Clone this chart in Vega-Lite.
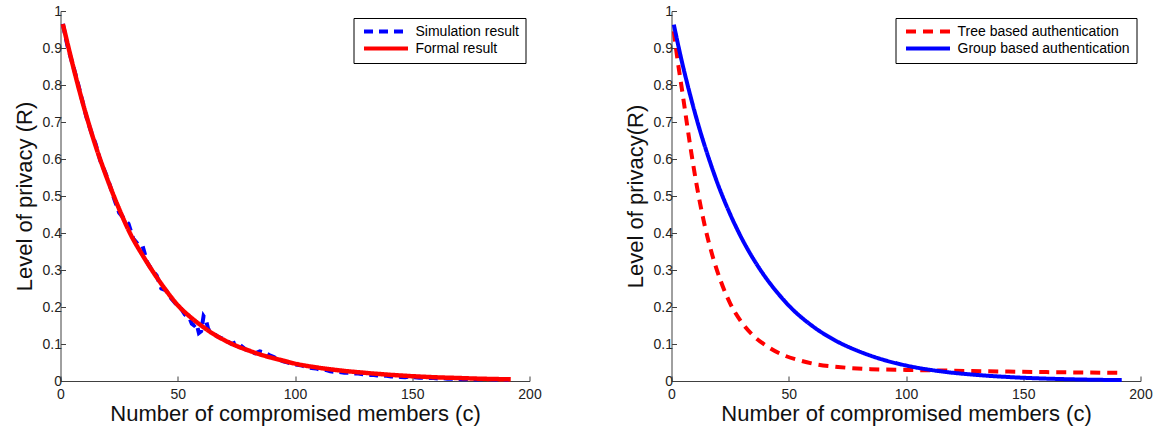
{
  "$schema": "https://vega.github.io/schema/vega-lite/v6.json",
  "background": "white",
  "padding": {"left": 12.5, "top": 4, "right": 2, "bottom": 2},
  "bounds": "flush",
  "spacing": 142,
  "config": {
    "view": {"stroke": null},
    "font": "Liberation Sans",
    "axis": {
      "grid": false,
      "domainColor": "#404040",
      "domainWidth": 1,
      "tickColor": "#404040",
      "tickSize": -5,
      "labelFlush": false,
      "labelFont": "Liberation Sans",
      "labelFontSize": 14,
      "labelColor": "#222222",
      "titleFont": "Liberation Sans",
      "titleFontSize": 22,
      "titleFontWeight": "normal",
      "titleColor": "#111111"
    },
    "axisX": {"labelPadding": 11, "titlePadding": 2},
    "axisY": {"labelPadding": 4, "titlePadding": 6},
    "legend": {
      "title": null, "strokeColor": "black", "fillColor": "white", "padding": 6,
      "symbolType": "M-4,0H4", "symbolSize": 121, "symbolStrokeWidth": 4, "symbolOffset": 19,
      "labelFontSize": 14, "labelColor": "black", "labelFont": "Liberation Sans", "rowPadding": 0, "labelOffset": 22, "labelLimit": 400
    }
  },
  "resolve": {
    "scale": {"color": "independent", "strokeDash": "independent"},
    "legend": {"color": "independent", "strokeDash": "independent"}
  },
  "datasets": {
    "left": [
      {"c": 1, "r": 0.965, "s": "Simulation result"}, {"c": 3, "r": 0.905, "s": "Simulation result"}, {"c": 5, "r": 0.86, "s": "Simulation result"}, {"c": 7, "r": 0.815, "s": "Simulation result"}, {"c": 9, "r": 0.765, "s": "Simulation result"}, {"c": 11, "r": 0.715, "s": "Simulation result"}, {"c": 13, "r": 0.675, "s": "Simulation result"}, {"c": 15, "r": 0.64, "s": "Simulation result"}, {"c": 17, "r": 0.595, "s": "Simulation result"}, {"c": 19, "r": 0.565, "s": "Simulation result"}, {"c": 21, "r": 0.53, "s": "Simulation result"}, {"c": 23, "r": 0.49, "s": "Simulation result"}, {"c": 25, "r": 0.455, "s": "Simulation result"}, {"c": 27, "r": 0.44, "s": "Simulation result"}, {"c": 29, "r": 0.425, "s": "Simulation result"}, {"c": 31, "r": 0.385, "s": "Simulation result"}, {"c": 33, "r": 0.37, "s": "Simulation result"}, {"c": 35, "r": 0.365, "s": "Simulation result"}, {"c": 37, "r": 0.32, "s": "Simulation result"}, {"c": 39, "r": 0.3, "s": "Simulation result"}, {"c": 41, "r": 0.285, "s": "Simulation result"}, {"c": 43, "r": 0.25, "s": "Simulation result"}, {"c": 45, "r": 0.245, "s": "Simulation result"}, {"c": 47, "r": 0.225, "s": "Simulation result"}, {"c": 49, "r": 0.21, "s": "Simulation result"}, {"c": 51, "r": 0.2, "s": "Simulation result"}, {"c": 53, "r": 0.18, "s": "Simulation result"}, {"c": 55, "r": 0.17, "s": "Simulation result"}, {"c": 56, "r": 0.155, "s": "Simulation result"}, {"c": 57, "r": 0.15, "s": "Simulation result"}, {"c": 58, "r": 0.155, "s": "Simulation result"}, {"c": 59, "r": 0.13, "s": "Simulation result"}, {"c": 60, "r": 0.135, "s": "Simulation result"}, {"c": 61, "r": 0.175, "s": "Simulation result"}, {"c": 62, "r": 0.165, "s": "Simulation result"}, {"c": 63, "r": 0.14, "s": "Simulation result"}, {"c": 65, "r": 0.13, "s": "Simulation result"}, {"c": 67, "r": 0.12, "s": "Simulation result"}, {"c": 69, "r": 0.115, "s": "Simulation result"}, {"c": 71, "r": 0.108, "s": "Simulation result"}, {"c": 73, "r": 0.1, "s": "Simulation result"}, {"c": 75, "r": 0.105, "s": "Simulation result"}, {"c": 77, "r": 0.095, "s": "Simulation result"}, {"c": 79, "r": 0.085, "s": "Simulation result"}, {"c": 81, "r": 0.08, "s": "Simulation result"}, {"c": 83, "r": 0.075, "s": "Simulation result"}, {"c": 85, "r": 0.08, "s": "Simulation result"}, {"c": 87, "r": 0.077, "s": "Simulation result"}, {"c": 89, "r": 0.07, "s": "Simulation result"}, {"c": 91, "r": 0.065, "s": "Simulation result"}, {"c": 93, "r": 0.058, "s": "Simulation result"}, {"c": 95, "r": 0.053, "s": "Simulation result"}, {"c": 97, "r": 0.05, "s": "Simulation result"}, {"c": 99, "r": 0.046, "s": "Simulation result"}, {"c": 101, "r": 0.044, "s": "Simulation result"}, {"c": 103, "r": 0.042, "s": "Simulation result"}, {"c": 105, "r": 0.037, "s": "Simulation result"}, {"c": 107, "r": 0.035, "s": "Simulation result"}, {"c": 109, "r": 0.034, "s": "Simulation result"}, {"c": 111, "r": 0.03, "s": "Simulation result"}, {"c": 113, "r": 0.03, "s": "Simulation result"}, {"c": 115, "r": 0.026, "s": "Simulation result"}, {"c": 117, "r": 0.025, "s": "Simulation result"}, {"c": 119, "r": 0.024, "s": "Simulation result"}, {"c": 121, "r": 0.022, "s": "Simulation result"}, {"c": 123, "r": 0.022, "s": "Simulation result"}, {"c": 125, "r": 0.02, "s": "Simulation result"}, {"c": 127, "r": 0.02, "s": "Simulation result"}, {"c": 129, "r": 0.018, "s": "Simulation result"}, {"c": 131, "r": 0.016, "s": "Simulation result"}, {"c": 133, "r": 0.017, "s": "Simulation result"}, {"c": 135, "r": 0.015, "s": "Simulation result"}, {"c": 137, "r": 0.014, "s": "Simulation result"}, {"c": 139, "r": 0.014, "s": "Simulation result"}, {"c": 141, "r": 0.012, "s": "Simulation result"}, {"c": 143, "r": 0.012, "s": "Simulation result"}, {"c": 145, "r": 0.011, "s": "Simulation result"}, {"c": 147, "r": 0.01, "s": "Simulation result"}, {"c": 149, "r": 0.012, "s": "Simulation result"}, {"c": 151, "r": 0.01, "s": "Simulation result"}, {"c": 153, "r": 0.009, "s": "Simulation result"}, {"c": 155, "r": 0.009, "s": "Simulation result"}, {"c": 157, "r": 0.008, "s": "Simulation result"}, {"c": 159, "r": 0.008, "s": "Simulation result"}, {"c": 161, "r": 0.007, "s": "Simulation result"}, {"c": 163, "r": 0.008, "s": "Simulation result"}, {"c": 165, "r": 0.006, "s": "Simulation result"}, {"c": 167, "r": 0.006, "s": "Simulation result"}, {"c": 169, "r": 0.006, "s": "Simulation result"}, {"c": 171, "r": 0.005, "s": "Simulation result"}, {"c": 173, "r": 0.005, "s": "Simulation result"}, {"c": 175, "r": 0.006, "s": "Simulation result"}, {"c": 177, "r": 0.004, "s": "Simulation result"}, {"c": 179, "r": 0.005, "s": "Simulation result"}, {"c": 181, "r": 0.004, "s": "Simulation result"}, {"c": 183, "r": 0.005, "s": "Simulation result"}, {"c": 185, "r": 0.004, "s": "Simulation result"}, {"c": 187, "r": 0.003, "s": "Simulation result"}, {"c": 189, "r": 0.004, "s": "Simulation result"}, {"c": 191, "r": 0.003, "s": "Simulation result"},
      {"c": 1, "r": 0.965, "s": "Formal result"}, {"c": 5, "r": 0.86, "s": "Formal result"}, {"c": 10, "r": 0.74, "s": "Formal result"}, {"c": 15, "r": 0.635, "s": "Formal result"}, {"c": 20, "r": 0.545, "s": "Formal result"}, {"c": 25, "r": 0.465, "s": "Formal result"}, {"c": 30, "r": 0.395, "s": "Formal result"}, {"c": 35, "r": 0.34, "s": "Formal result"}, {"c": 40, "r": 0.29, "s": "Formal result"}, {"c": 45, "r": 0.245, "s": "Formal result"}, {"c": 50, "r": 0.205, "s": "Formal result"}, {"c": 55, "r": 0.175, "s": "Formal result"}, {"c": 60, "r": 0.15, "s": "Formal result"}, {"c": 65, "r": 0.128, "s": "Formal result"}, {"c": 70, "r": 0.11, "s": "Formal result"}, {"c": 75, "r": 0.095, "s": "Formal result"}, {"c": 80, "r": 0.083, "s": "Formal result"}, {"c": 85, "r": 0.072, "s": "Formal result"}, {"c": 90, "r": 0.063, "s": "Formal result"}, {"c": 95, "r": 0.055, "s": "Formal result"}, {"c": 100, "r": 0.047, "s": "Formal result"}, {"c": 110, "r": 0.036, "s": "Formal result"}, {"c": 120, "r": 0.028, "s": "Formal result"}, {"c": 130, "r": 0.022, "s": "Formal result"}, {"c": 140, "r": 0.017, "s": "Formal result"}, {"c": 150, "r": 0.013, "s": "Formal result"}, {"c": 160, "r": 0.01, "s": "Formal result"}, {"c": 170, "r": 0.008, "s": "Formal result"}, {"c": 180, "r": 0.006, "s": "Formal result"}, {"c": 192, "r": 0.0045, "s": "Formal result"}
    ],
    "right": [
      {"c": 1, "r": 0.945, "s": "Tree based authentication"}, {"c": 2, "r": 0.895, "s": "Tree based authentication"}, {"c": 5, "r": 0.765, "s": "Tree based authentication"}, {"c": 8, "r": 0.635, "s": "Tree based authentication"}, {"c": 11, "r": 0.52, "s": "Tree based authentication"}, {"c": 14, "r": 0.425, "s": "Tree based authentication"}, {"c": 17.5, "r": 0.338, "s": "Tree based authentication"}, {"c": 21, "r": 0.27, "s": "Tree based authentication"}, {"c": 25, "r": 0.21, "s": "Tree based authentication"}, {"c": 30, "r": 0.158, "s": "Tree based authentication"}, {"c": 35, "r": 0.122, "s": "Tree based authentication"}, {"c": 41, "r": 0.093, "s": "Tree based authentication"}, {"c": 47, "r": 0.072, "s": "Tree based authentication"}, {"c": 54, "r": 0.057, "s": "Tree based authentication"}, {"c": 61, "r": 0.046, "s": "Tree based authentication"}, {"c": 71, "r": 0.038, "s": "Tree based authentication"}, {"c": 85, "r": 0.032, "s": "Tree based authentication"}, {"c": 100, "r": 0.03, "s": "Tree based authentication"}, {"c": 128, "r": 0.027, "s": "Tree based authentication"}, {"c": 160, "r": 0.024, "s": "Tree based authentication"}, {"c": 192, "r": 0.022, "s": "Tree based authentication"},
      {"c": 1, "r": 0.963, "s": "Group based authentication"}, {"c": 4, "r": 0.875, "s": "Group based authentication"}, {"c": 8, "r": 0.772, "s": "Group based authentication"}, {"c": 12, "r": 0.68, "s": "Group based authentication"}, {"c": 16, "r": 0.6, "s": "Group based authentication"}, {"c": 20, "r": 0.528, "s": "Group based authentication"}, {"c": 25, "r": 0.451, "s": "Group based authentication"}, {"c": 30, "r": 0.385, "s": "Group based authentication"}, {"c": 35, "r": 0.329, "s": "Group based authentication"}, {"c": 40, "r": 0.281, "s": "Group based authentication"}, {"c": 45, "r": 0.24, "s": "Group based authentication"}, {"c": 50, "r": 0.204, "s": "Group based authentication"}, {"c": 60, "r": 0.149, "s": "Group based authentication"}, {"c": 70, "r": 0.109, "s": "Group based authentication"}, {"c": 80, "r": 0.08, "s": "Group based authentication"}, {"c": 90, "r": 0.058, "s": "Group based authentication"}, {"c": 100, "r": 0.042, "s": "Group based authentication"}, {"c": 115, "r": 0.026, "s": "Group based authentication"}, {"c": 130, "r": 0.0165, "s": "Group based authentication"}, {"c": 145, "r": 0.0103, "s": "Group based authentication"}, {"c": 160, "r": 0.0064, "s": "Group based authentication"}, {"c": 175, "r": 0.004, "s": "Group based authentication"}, {"c": 192, "r": 0.0024, "s": "Group based authentication"}
    ]
  },
  "hconcat": [
    {
      "width": 469,
      "height": 370,
      "data": {"name": "left"},
      "encoding": {
        "x": {"field": "c", "type": "quantitative", "scale": {"domain": [0, 200], "nice": false}, "axis": {"values": [0, 50, 100, 150, 200], "title": "Number of compromised members (c)"}},
        "y": {"field": "r", "type": "quantitative", "scale": {"domain": [0, 1], "nice": false}, "axis": {"values": [0, 0.1, 0.2, 0.3, 0.4, 0.5, 0.6, 0.7, 0.8, 0.9, 1], "format": "~g", "title": "Level of privacy (R)"}},
        "color": {"field": "s", "type": "nominal", "scale": {"domain": ["Simulation result", "Formal result"], "range": ["#0000ff", "#ff0000"]},
          "legend": {"orient": "none", "legendX": 293, "legendY": 7}},
        "strokeDash": {"field": "s", "type": "nominal", "scale": {"domain": ["Simulation result", "Formal result"], "range": [[9, 6], [1, 0]]},
          "legend": {"orient": "none", "legendX": 293, "legendY": 7}}
      },
      "layer": [
        {"transform": [{"filter": "datum.s == 'Simulation result'"}], "mark": {"type": "line", "strokeWidth": 4, "interpolate": "linear"}},
        {"transform": [{"filter": "datum.s == 'Formal result'"}], "mark": {"type": "line", "strokeWidth": 4.5, "interpolate": "monotone"}}
      ]
    },
    {
      "width": 469,
      "height": 370,
      "data": {"name": "right"},
      "encoding": {
        "x": {"field": "c", "type": "quantitative", "scale": {"domain": [0, 200], "nice": false}, "axis": {"values": [0, 50, 100, 150, 200], "title": "Number of compromised members (c)"}},
        "y": {"field": "r", "type": "quantitative", "scale": {"domain": [0, 1], "nice": false}, "axis": {"values": [0, 0.1, 0.2, 0.3, 0.4, 0.5, 0.6, 0.7, 0.8, 0.9, 1], "format": "~g", "title": "Level of privacy(R)"}},
        "color": {"field": "s", "type": "nominal", "scale": {"domain": ["Tree based authentication", "Group based authentication"], "range": ["#ff0000", "#0000ff"]},
          "legend": {"orient": "none", "legendX": 224, "legendY": 7}},
        "strokeDash": {"field": "s", "type": "nominal", "scale": {"domain": ["Tree based authentication", "Group based authentication"], "range": [[10, 7], [1, 0]]},
          "legend": {"orient": "none", "legendX": 224, "legendY": 7}}
      },
      "layer": [
        {"transform": [{"filter": "datum.s == 'Tree based authentication'"}], "mark": {"type": "line", "strokeWidth": 4, "interpolate": "monotone"}},
        {"transform": [{"filter": "datum.s == 'Group based authentication'"}], "mark": {"type": "line", "strokeWidth": 4, "interpolate": "monotone"}}
      ]
    }
  ]
}
